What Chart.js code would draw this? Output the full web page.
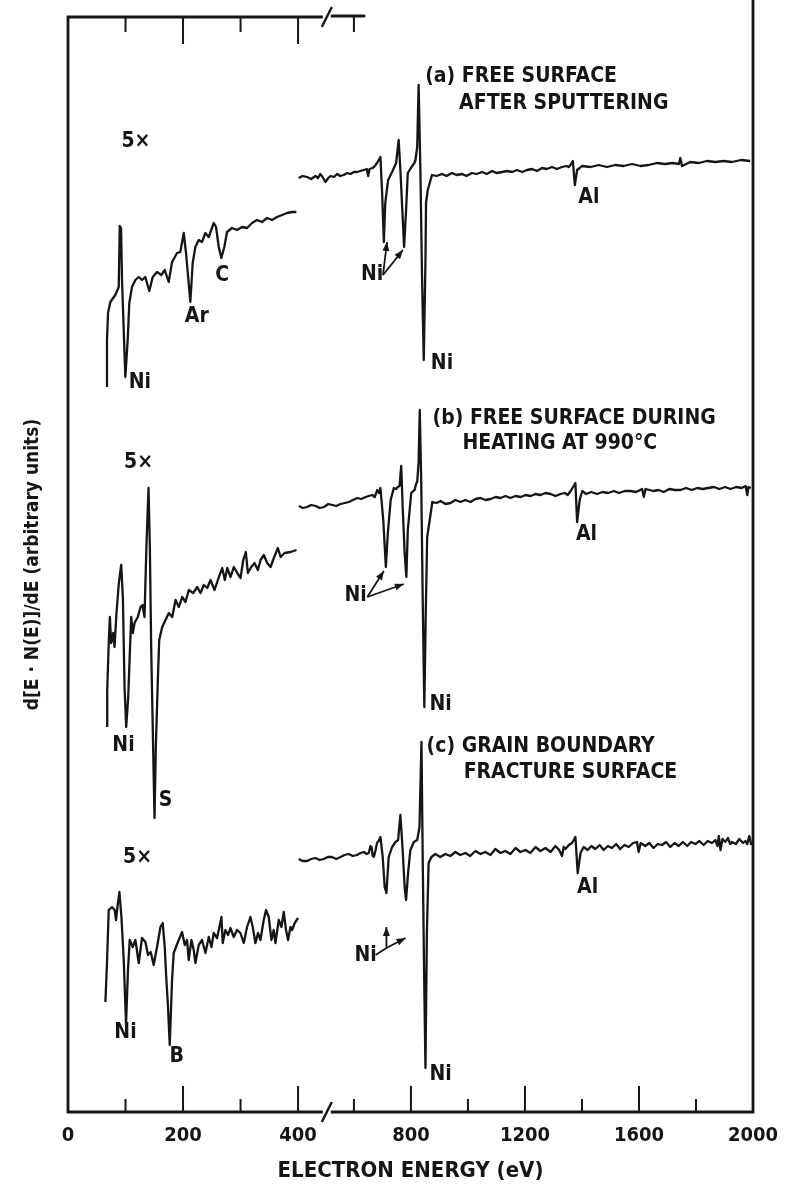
<!DOCTYPE html>
<html>
<head>
<meta charset="utf-8">
<title>Auger spectra</title>
<script src="https://cdn.jsdelivr.net/npm/chart.js@4.4.1/dist/chart.umd.min.js"></script>
<style>
  html, body { margin: 0; padding: 0; background: #fff; }
  #wrap { width: 786px; height: 1184px; position: relative; }
</style>
</head>
<body>
<div id="wrap"><canvas id="auger"></canvas></div>
<script>
// [energy eV, signal].  The 5x traces live on the expanded
// left scale (0-450 eV), the 1x traces on the right scale (up to 2000 eV).
const aLow = [[67.8,72.5],[67.8,77.2],[69.6,79.9],[73.6,81.0],[82.3,81.7],[88.2,82.5],[90.0,88.6],[92.2,88.4],[93.9,83.2],[99.7,73.5],[103.8,77.2],[106.6,80.9],[111.3,82.5],[117.1,83.2],[123.0,83.5],[128.7,83.2],[134.4,83.5],[141.4,82.1],[147.3,83.5],[154.8,84.0],[162.3,83.7],[168.2,84.2],[175.1,83.0],[180.9,85.0],[189.6,85.9],[195.3,86.0],[201.2,87.9],[205.2,85.9],[212.7,81.0],[216.8,84.9],[221.4,86.5],[227.3,87.2],[233.0,87.0],[238.8,87.9],[244.7,87.5],[253.4,88.9],[257.4,88.5],[262.1,86.5],[266.6,85.4],[271.8,86.5],[276.5,88.0],[285.2,88.4],[293.9,88.2],[302.6,88.5],[311.3,88.4],[320.0,88.9],[328.7,89.2],[337.4,89.0],[346.1,89.4],[354.8,89.2],[363.5,89.5],[372.2,89.7],[380.9,89.9],[389.6,90.0],[397.0,90.0]];

const aHigh = [[406,93.4],[420,93.6],[436,93.5],[450,93.3],[465,93.6],[474,93.4],[482,93.8],[490,93.5],[500,93.0],[510,93.4],[518,93.6],[530,93.5],[541,93.8],[552,93.6],[564,93.7],[576,93.9],[588,93.8],[600,94.0],[611,94.0],[622,94.1],[635,94.2],[645,94.3],[650,93.6],[655,94.3],[665,94.4],[670,94.5],[676,94.7],[681,94.9],[687,95.2],[693,95.5],[699,91.9],[705,87.0],[710,90.9],[720,93.2],[734,94.0],[748,94.9],[757,97.2],[763,94.2],[771,89.5],[776,86.5],[783,90.2],[789,93.9],[802,94.5],[812,94.9],[816,95.2],[822,96.5],[827,102.7],[833,94.5],[839,83.5],[845,75.2],[851,85.2],[853,90.9],[859,92.2],[866,92.9],[874,93.7],[890,93.6],[909,93.8],[925,93.6],[944,93.9],[960,93.7],[979,93.8],[995,93.6],[1014,93.9],[1030,93.8],[1050,94.0],[1066,93.8],[1085,94.1],[1100,93.9],[1120,94.0],[1137,94.1],[1155,94.0],[1172,94.2],[1190,94.0],[1207,94.2],[1225,94.3],[1242,94.1],[1260,94.4],[1277,94.3],[1295,94.5],[1312,94.3],[1330,94.5],[1345,94.6],[1354,94.5],[1362,94.8],[1368,95.1],[1375,92.7],[1383,94.2],[1392,94.4],[1400,94.6],[1430,94.5],[1459,94.7],[1488,94.5],[1517,94.7],[1546,94.6],[1576,94.8],[1605,94.6],[1634,94.7],[1663,94.9],[1692,94.8],[1718,94.9],[1740,94.8],[1745,95.4],[1751,94.6],[1780,95.0],[1810,94.9],[1838,95.1],[1868,95.0],[1897,95.1],[1926,95.0],[1958,95.2],[1990,95.1]];

const bLow = [[68.2,38.5],[68.2,42.2],[71.0,47.2],[72.8,49.5],[75.1,46.9],[78.6,47.9],[80.9,46.5],[84.3,49.9],[88.4,52.9],[92.5,54.7],[95.4,51.5],[98.3,42.5],[101.2,38.5],[104.7,41.5],[107.5,45.9],[109.9,49.5],[112.7,47.9],[115.7,48.9],[121.4,49.5],[126.1,50.5],[129.6,50.7],[133.0,49.5],[136.5,56.9],[140.0,62.4],[142.3,56.5],[144.7,46.2],[148.2,35.9],[150.4,29.4],[152.7,36.5],[156.2,43.2],[158.6,47.2],[163.8,48.5],[169.6,49.2],[175.3,49.9],[181.2,49.5],[187.0,51.2],[192.7,50.5],[198.6,51.5],[204.3,51.0],[210.1,52.2],[217.7,51.9],[224.7,52.5],[230.4,51.9],[236.2,52.7],[242.1,52.4],[247.8,53.2],[254.8,52.2],[262.3,53.5],[268.2,54.4],[272.7,53.2],[276.9,54.4],[282.6,53.5],[288.3,54.5],[294.3,53.9],[300.0,53.4],[304.7,55.2],[309.2,56.0],[312.7,53.9],[318.6,54.5],[324.3,54.9],[330.1,54.2],[334.8,55.2],[340.5,55.7],[346.4,54.9],[352.2,54.5],[357.9,55.4],[364.9,56.4],[369.6,55.5],[376.5,55.9],[387.0,56.0],[397.4,56.2]];

const bHigh = [[407,60.6],[421,60.4],[436,60.5],[450,60.7],[466,60.6],[480,60.4],[495,60.5],[510,60.8],[524,60.7],[538,60.6],[553,60.8],[568,60.9],[582,61.0],[597,61.2],[612,61.4],[626,61.3],[641,61.5],[652,61.6],[664,61.7],[673,61.5],[682,62.2],[688,61.9],[693,62.4],[703,59.2],[712,54.5],[719,57.9],[729,61.2],[740,62.4],[748,62.3],[754,62.5],[760,62.6],[766,64.6],[771,60.5],[778,55.9],[784,53.5],[789,58.2],[801,61.9],[808,62.1],[813,62.2],[818,62.8],[822,63.0],[827,65.0],[831,70.2],[836,63.2],[842,49.9],[847,40.5],[852,49.9],[857,57.5],[866,59.2],[875,61.0],[890,60.9],[904,61.1],[921,60.8],[939,60.9],[956,61.2],[974,61.0],[991,61.2],[1009,61.0],[1026,61.3],[1044,61.4],[1062,61.2],[1079,61.3],[1097,61.5],[1114,61.4],[1132,61.6],[1149,61.4],[1167,61.6],[1185,61.5],[1202,61.7],[1220,61.6],[1237,61.8],[1255,61.7],[1272,61.9],[1290,61.8],[1307,61.6],[1325,61.8],[1340,61.9],[1350,61.7],[1360,62.1],[1369,62.5],[1377,62.9],[1383,59.0],[1392,61.2],[1401,62.1],[1415,61.8],[1432,62.0],[1453,61.8],[1472,62.0],[1492,61.9],[1512,62.1],[1530,61.9],[1550,62.1],[1570,62.1],[1590,62.0],[1611,62.3],[1617,61.5],[1623,62.3],[1650,62.1],[1669,62.2],[1687,62.0],[1706,62.3],[1726,62.2],[1746,62.2],[1765,62.4],[1785,62.2],[1804,62.4],[1824,62.3],[1843,62.4],[1863,62.5],[1882,62.3],[1902,62.5],[1921,62.3],[1941,62.5],[1960,62.4],[1974,62.6],[1980,61.7],[1984,62.5],[1992,62.4]];

const cLow = [[65.0,11.0],[67.8,14.9],[70.8,20.2],[76.5,20.5],[81.2,20.2],[83.5,19.2],[86.4,20.7],[89.4,22.0],[92.9,19.5],[96.9,15.2],[100.9,8.8],[104.3,14.2],[107.3,17.2],[112.5,16.5],[117.2,17.2],[123.0,14.9],[128.7,17.4],[134.6,17.0],[139.1,15.7],[143.8,16.0],[149.0,14.7],[154.8,16.5],[160.7,18.5],[164.7,18.9],[168.2,16.5],[170.4,13.9],[173.9,10.5],[176.9,6.7],[180.9,13.2],[183.8,15.9],[187.8,16.5],[192.5,17.2],[198.3,18.0],[203.0,16.7],[207.0,17.2],[209.9,15.2],[214.6,17.2],[218.6,16.2],[221.6,14.9],[227.3,16.7],[233.0,17.2],[239.0,15.9],[244.7,17.5],[249.4,16.5],[253.4,17.9],[259.1,17.4],[263.3,18.5],[266.8,19.5],[269.0,16.9],[273.7,18.2],[278.3,17.7],[282.4,18.4],[288.2,17.5],[293.9,18.2],[299.8,17.9],[305.6,16.9],[311.3,18.5],[317.2,19.5],[321.2,18.5],[325.9,16.9],[330.4,17.9],[334.6,17.2],[340.3,19.2],[344.3,20.2],[349.0,19.5],[353.7,17.2],[357.7,18.2],[360.7,16.9],[366.4,19.2],[371.1,18.5],[375.1,20.0],[379.1,18.2],[382.6,17.2],[386.8,18.5],[389.6,18.2],[394.3,18.9],[400.0,19.4]];

const cHigh = [[406,25.3],[420,25.1],[436,25.1],[450,25.3],[465,25.4],[480,25.2],[494,25.3],[508,25.5],[523,25.5],[538,25.3],[553,25.5],[567,25.7],[582,25.8],[596,25.6],[611,25.7],[623,25.9],[635,26.0],[645,25.8],[652,25.9],[658,26.6],[662,26.5],[666,25.6],[670,25.5],[676,26.2],[681,26.9],[687,27.1],[693,27.5],[701,25.5],[708,22.5],[714,21.9],[722,25.5],[734,26.5],[746,27.0],[755,27.2],[763,29.7],[771,26.2],[778,22.5],[783,21.2],[790,23.9],[798,26.2],[810,27.0],[822,27.2],[830,28.5],[837,37.0],[841,26.2],[846,14.5],[851,4.4],[856,17.9],[862,24.9],[872,25.5],[886,25.8],[903,25.5],[921,25.8],[938,25.6],[956,26.0],[973,25.7],[991,25.9],[1008,25.6],[1026,26.1],[1044,25.8],[1061,26.0],[1079,25.7],[1096,26.3],[1114,25.9],[1131,26.1],[1149,25.8],[1167,26.4],[1184,26.0],[1202,26.2],[1219,25.9],[1237,26.5],[1254,26.1],[1272,26.4],[1290,26.0],[1307,26.6],[1320,26.2],[1330,25.6],[1336,26.5],[1342,26.3],[1354,26.7],[1365,26.9],[1377,27.5],[1385,23.9],[1395,25.9],[1406,26.5],[1420,26.2],[1433,26.6],[1447,26.3],[1462,26.7],[1476,26.2],[1491,26.6],[1505,26.4],[1520,26.8],[1534,26.3],[1549,26.7],[1564,26.5],[1579,26.9],[1593,27.0],[1599,26.0],[1606,26.9],[1622,26.6],[1636,26.9],[1651,26.4],[1666,26.8],[1681,26.7],[1695,27.0],[1710,26.5],[1725,26.9],[1739,26.6],[1754,27.0],[1769,26.6],[1783,27.0],[1798,26.8],[1812,27.1],[1827,26.7],[1841,27.1],[1856,26.9],[1868,27.2],[1875,26.6],[1880,27.6],[1886,26.2],[1893,27.3],[1903,27.0],[1912,27.4],[1920,26.8],[1926,27.0],[1940,26.8],[1952,27.3],[1965,26.9],[1973,27.1],[1980,26.8],[1987,27.6],[1994,26.7]];

// axis ticks
const leftLabels = [0, 200, 400];
const rightLabels = [800, 1200, 1600, 2000];
const leftTicks = [100, 200, 300, 400];
const rightTicks = [600, 800, 1000, 1200, 1400, 1600, 1800];
const topRightTicks = [600];  // the top edge of the 1x part only survives up to here
const topRightEnd = 640;
const breakAt = 450;          // where the left (expanded) scale stops
const leftMax = 1191;         // left scale range over the full frame
const rightMin = -403;        // right scale range over the full frame

// peak names and panel captions, in data units of the scale they belong to
const notes = [
  {t: '5×', s: 'xl', x: 118, y: 97.0},
  {t: 'Ni', s: 'xl', x: 125, y: 72.9},
  {t: 'Ar', s: 'xl', x: 224, y: 79.5},
  {t: 'C', s: 'xl', x: 268, y: 83.6},
  {t: '(a) FREE SURFACE', s: 'xr', x: 850, y: 103.5, a: 'left'},
  {t: 'AFTER SPUTTERING', s: 'xr', x: 969, y: 100.8, a: 'left'},
  {t: 'Ni', s: 'xr', x: 664, y: 83.7},
  {t: 'Ni', s: 'xr', x: 909, y: 74.8},
  {t: 'Al', s: 'xr', x: 1424, y: 91.4},

  {t: '5×', s: 'xl', x: 122.6, y: 64.9},
  {t: 'Ni', s: 'xl', x: 96.5, y: 36.6},
  {t: 'S', s: 'xl', x: 169.6, y: 31.1},
  {t: '(b) FREE SURFACE DURING', s: 'xr', x: 876, y: 69.3, a: 'left'},
  {t: 'HEATING AT 990°C', s: 'xr', x: 981, y: 66.8, a: 'left'},
  {t: 'Ni', s: 'xr', x: 606, y: 51.6},
  {t: 'Ni', s: 'xr', x: 904, y: 40.7},
  {t: 'Al', s: 'xr', x: 1416, y: 57.7},

  {t: '5×', s: 'xl', x: 121, y: 25.4},
  {t: 'Ni', s: 'xl', x: 100, y: 7.9},
  {t: 'B', s: 'xl', x: 189, y: 5.5},
  {t: '(c) GRAIN BOUNDARY', s: 'xr', x: 855, y: 36.5, a: 'left'},
  {t: 'FRACTURE SURFACE', s: 'xr', x: 985, y: 33.9, a: 'left'},
  {t: 'Ni', s: 'xr', x: 641, y: 15.6},
  {t: 'Ni', s: 'xr', x: 904, y: 3.7},
  {t: 'Al', s: 'xr', x: 1420, y: 22.4}
];

// pointers from the "Ni" notes to the two low-energy Ni dips (right scale)
const pointers = [
  [[702, 83.7], [716, 87.0]],
  [[702, 83.7], [772, 86.2]],
  [[647, 51.5], [705, 54.1]],
  [[647, 51.5], [775, 52.8]],
  [[676, 15.7], [714, 16.4], [714, 18.5]],
  [[714, 16.4], [781, 17.4]]
];

const INK = '#151515';
const FONT = '"DejaVu Sans Condensed", "DejaVu Sans", sans-serif';
const NOTE_FONT = 'bold 21px ' + FONT;
const TICK_FONT = 'bold 20px ' + FONT;

const traces = [aLow, aHigh, bLow, bHigh, cLow, cHigh];
const traceAxis = ['xl', 'xr', 'xl', 'xr', 'xl', 'xr'];

const framePlugin = {
  id: 'frame',
  afterDatasetsDraw(chart) {
    const {ctx, chartArea: ca, scales} = chart;
    const xl = scales.xl, xr = scales.xr, y = scales.y;
    const bx = xl.getPixelForValue(breakAt);
    const topEnd = xr.getPixelForValue(topRightEnd);
    ctx.save();
    ctx.strokeStyle = INK;
    ctx.fillStyle = INK;

    // box, broken at the scale change; the right edge runs off the top
    ctx.lineWidth = 2.8;
    ctx.beginPath();
    ctx.moveTo(ca.left, ca.top - 1.4); ctx.lineTo(ca.left, ca.bottom + 1.4);
    ctx.moveTo(ca.right, 0); ctx.lineTo(ca.right, ca.bottom + 1.4);
    ctx.moveTo(ca.left, ca.top); ctx.lineTo(bx - 4, ca.top);
    ctx.moveTo(bx + 4, ca.top - 1); ctx.lineTo(topEnd, ca.top - 1);
    ctx.moveTo(ca.left, ca.bottom); ctx.lineTo(bx - 4, ca.bottom);
    ctx.moveTo(bx + 4, ca.bottom); ctx.lineTo(ca.right, ca.bottom);
    ctx.stroke();
    ctx.lineWidth = 2.4;
    ctx.beginPath();
    [ca.top, ca.bottom].forEach(yy => {
      ctx.moveTo(bx - 5, yy + 10); ctx.lineTo(bx + 5, yy - 10);
    });
    ctx.stroke();

    // ticks point into the frame
    ctx.lineWidth = 2;
    ctx.beginPath();
    const up = (px, len) => { ctx.moveTo(px, ca.bottom); ctx.lineTo(px, ca.bottom - len); };
    const down = (px, len) => { ctx.moveTo(px, ca.top); ctx.lineTo(px, ca.top + len); };
    leftTicks.forEach(v => {
      const px = xl.getPixelForValue(v), major = leftLabels.includes(v);
      up(px, major ? 26 : 13);
      down(px, major ? 27 : 15);
    });
    rightTicks.forEach(v => up(xr.getPixelForValue(v), rightLabels.includes(v) ? 26 : 13));
    topRightTicks.forEach(v => down(xr.getPixelForValue(v), 15));
    ctx.stroke();

    // tick labels of the right-hand (1x) scale, same row as the left ones
    ctx.font = TICK_FONT;
    ctx.textAlign = 'center';
    ctx.textBaseline = 'middle';
    rightLabels.forEach(v => ctx.fillText(String(v), xr.getPixelForValue(v), ca.bottom + 24));

    // notes
    ctx.font = NOTE_FONT;
    notes.forEach(n => {
      ctx.textAlign = n.a || 'center';
      ctx.fillText(n.t, scales[n.s].getPixelForValue(n.x), y.getPixelForValue(n.y));
    });

    // pointers with arrow heads
    ctx.lineWidth = 1.8;
    pointers.forEach(p => {
      const pts = p.map(q => [xr.getPixelForValue(q[0]), y.getPixelForValue(q[1])]);
      ctx.beginPath();
      ctx.moveTo(pts[0][0], pts[0][1]);
      pts.slice(1).forEach(q => ctx.lineTo(q[0], q[1]));
      ctx.stroke();
      const [x0, y0] = pts[pts.length - 2];
      const [x1, y1] = pts[pts.length - 1];
      const ang = Math.atan2(y1 - y0, x1 - x0);
      ctx.beginPath();
      ctx.moveTo(x1, y1);
      ctx.lineTo(x1 - 9 * Math.cos(ang) + 3.5 * Math.sin(ang), y1 - 9 * Math.sin(ang) - 3.5 * Math.cos(ang));
      ctx.lineTo(x1 - 9 * Math.cos(ang) - 3.5 * Math.sin(ang), y1 - 9 * Math.sin(ang) + 3.5 * Math.cos(ang));
      ctx.closePath();
      ctx.fill();
    });
    ctx.restore();
  }
};

new Chart(document.getElementById('auger'), {
  type: 'line',
  data: {
    datasets: traces.map((tr, i) => ({
      data: tr.map(p => ({x: p[0], y: p[1]})),
      xAxisID: traceAxis[i],
      yAxisID: 'y',
      borderColor: INK,
      borderWidth: 2.3,
      borderJoinStyle: 'round',
      pointRadius: 0,
      tension: 0,
      fill: false
    }))
  },
  options: {
    responsive: true,
    maintainAspectRatio: false,
    animation: false,
    layout: {padding: {top: 17, right: 33, left: 0, bottom: 0}},
    plugins: {legend: {display: false}, tooltip: {enabled: false}},
    scales: {
      xr: {
        type: 'linear', position: 'bottom', weight: 0,
        min: rightMin, max: 2000,
        afterFit: s => { s.height = 0; },
        ticks: {display: false},
        grid: {display: false, drawTicks: false},
        border: {display: false}
      },
      xl: {
        type: 'linear', position: 'bottom', weight: 1,
        min: 0, max: leftMax,
        afterBuildTicks: s => { s.ticks = leftLabels.map(v => ({value: v})); },
        afterFit: s => { s.height = 72; },
        ticks: {color: INK, font: {family: FONT, size: 20, weight: 'bold'}, padding: 12, maxRotation: 0, autoSkip: false},
        grid: {display: false, drawTicks: false},
        border: {display: false},
        title: {display: true, text: 'ELECTRON ENERGY (eV)', color: INK,
                font: {family: FONT, size: 22, weight: 'bold'}, padding: {top: 0, bottom: 0}}
      },
      y: {
        type: 'linear', position: 'left',
        min: 0, max: 109.5,
        afterFit: s => { s.width = 68; },
        ticks: {display: false},
        grid: {display: false, drawTicks: false},
        border: {display: false},
        title: {display: true, text: 'd[E · N(E)]/dE (arbitrary units)', color: INK,
                font: {family: FONT, size: 19, weight: 'bold'}, padding: {top: 22, bottom: 0}}
      }
    }
  },
  plugins: [framePlugin]
});
</script>
</body>
</html>
